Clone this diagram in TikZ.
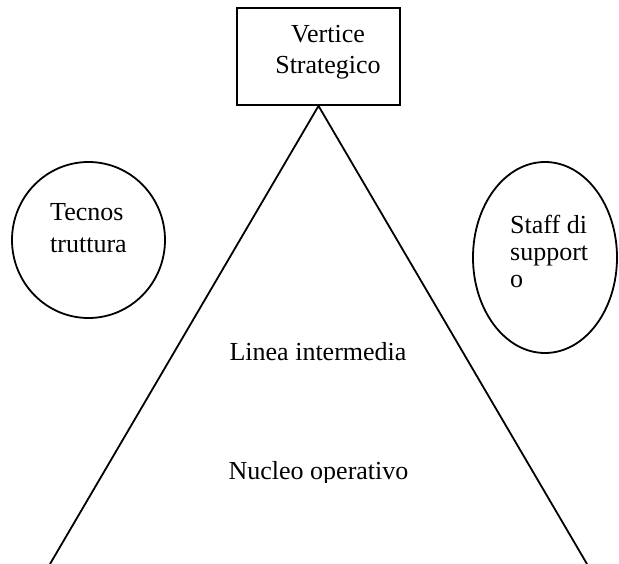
\documentclass[tikz,border=0pt]{standalone}
\usepackage{fontspec}
\setmainfont{Liberation Serif}
\usetikzlibrary{shapes.geometric}
\begin{document}
\begin{tikzpicture}[x=1pt,y=-1pt,
  outline/.style={draw=black,line width=1.8pt},
  label/.style={inner sep=0pt,font=\fontsize{26}{31}\selectfont},
  blob/.style={outline,ellipse,inner sep=0pt}]
\useasboundingbox (0,0) rectangle (619,564);
% strategic apex box
\node[outline,rectangle,minimum width=163pt,minimum height=97pt,inner sep=0pt] (vs) at (318.5,56.5) {};
\node[label,align=center] (vst) at (328,52) {Vertice\\Strategico};
% side units
\node[blob,minimum width=153pt,minimum height=156pt] (tec) at (88.5,240) {};
\node[label,align=left,anchor=west,font=\fontsize{26}{32}\selectfont] (tect) at (50,228) {Tecnos\\truttura};
\node[blob,minimum width=144pt,minimum height=191pt] (stf) at (545,257.5) {};
\node[label,align=left,anchor=west,font=\fontsize{26}{27}\selectfont] (stft) at (510,251) {Staff di\\support\\o};
% pyramid sides
\coordinate (bl) at (50,564);
\coordinate (br) at (587,564);
\draw[line width=1.8pt] (bl) -- (vs.south) -- (br);
% levels
\node[label] (lin) at (318,352) {Linea intermedia};
\begin{scope}
  \clip (0,0) rectangle (619,482);
  \node[label,anchor=base] (nuc) at (318.5,479) {Nucleo operativo};
\end{scope}
\end{tikzpicture}
\end{document}
